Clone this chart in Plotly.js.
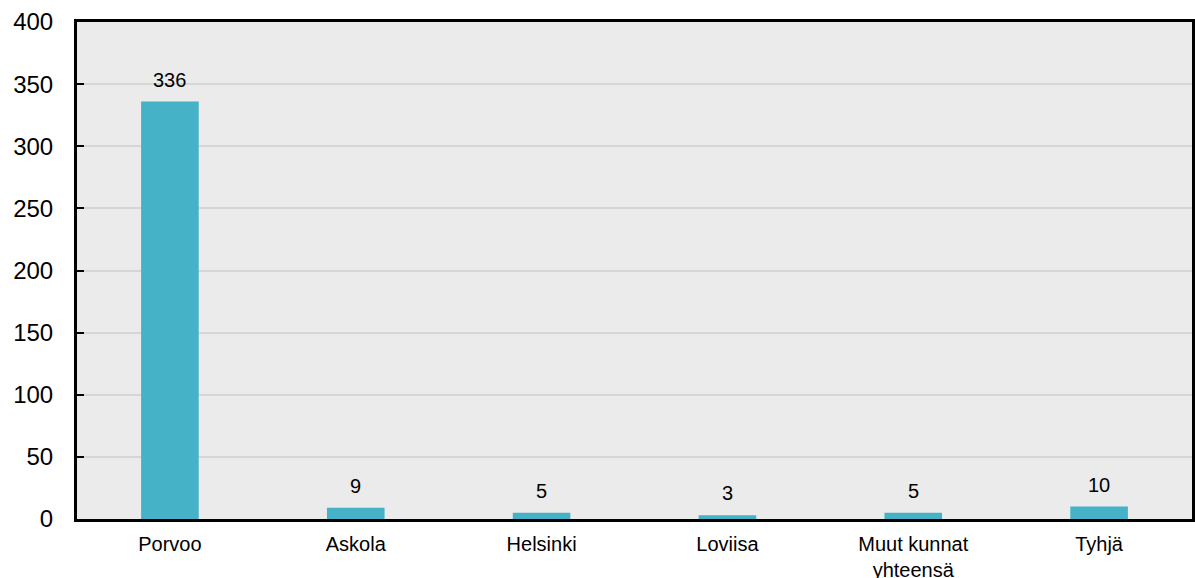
<!DOCTYPE html>
<html><head><meta charset="utf-8">
<script src="https://cdn.plot.ly/plotly-3.0.1.min.js"></script>
<style>html,body{margin:0;padding:0;background:#fff}</style>
</head><body>
<div id="chart" style="width:1195px;height:578px"></div>
<script>
const categories = ["Porvoo", "Askola", "Helsinki", "Loviisa", "Muut kunnat<br>yhteensä", "Tyhjä"];
const values = [336, 9, 5, 3, 5, 10];
const yTicks = [0, 50, 100, 150, 200, 250, 300, 350, 400];

const trace = {
  type: 'bar', x: categories, y: values,
  marker: {color: '#45B2C7'}, width: 0.31, hoverinfo: 'none'
};
const annotations = categories.map((c, i) => ({
  x: c, y: values[i], xref: 'x', yref: 'y', text: String(values[i]),
  showarrow: false, yanchor: 'bottom', yshift: 9,
  font: {family: 'Liberation Sans, Arial, sans-serif', size: 20, color: '#000'}
}));
const layout = {
  width: 1195, height: 578,
  margin: {l: 77, r: 3, t: 22, b: 59},
  paper_bgcolor: '#fff', plot_bgcolor: '#EBEBEB',
  font: {family: 'Liberation Sans, Arial, sans-serif', color: '#000'},
  showlegend: false,
  xaxis: {
    type: 'category', showline: true, mirror: true, linecolor: '#000', linewidth: 3,
    ticks: '', tickfont: {size: 20}, ticklabelstandoff: 5, showgrid: false
  },
  yaxis: {
    range: [0, 400], tickvals: yTicks, showline: true, mirror: true, linecolor: '#000', linewidth: 3,
    ticks: 'inside', ticklen: 7, tickwidth: 2, tickcolor: '#000',
    tickfont: {size: 24}, ticklabelstandoff: 16,
    showgrid: true, gridcolor: '#D6D6D6', gridwidth: 2, zeroline: false
  },
  annotations: annotations
};
Plotly.newPlot('chart', [trace], layout, {staticPlot: true, displayModeBar: false});
</script>
</body></html>
